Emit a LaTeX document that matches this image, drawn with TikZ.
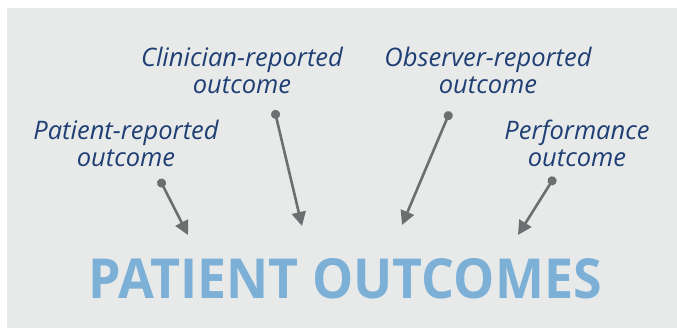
\documentclass[tikz,border=0pt]{standalone}
\usepackage{fontspec}
\setmainfont{Open Sans}
\usetikzlibrary{arrows.meta}

\definecolor{panelgray}{HTML}{E8E9E9}
\definecolor{labelblue}{HTML}{1F3F74}
\definecolor{titleblue}{HTML}{7DB0D7}
\definecolor{arrowgray}{HTML}{6D6E70}

\tikzset{
  kind/.style={font=\fontsize{25.5}{27}\selectfont\itshape, text=labelblue, align=center, inner sep=0pt},
  pointer/.style={draw=arrowgray, line width=2.6pt, {Circle[length=9pt]}-{Triangle[length=14pt,width=14pt]}}
}

\begin{document}
\begin{tikzpicture}[x=1pt,y=-1pt]
		\useasboundingbox (0,0) rectangle (677,328);
		\fill[panelgray] (7,8) rectangle (677,328);
		% the four kinds of outcome
		\node[kind] (PRO) at (126,143) {Patient-reported\\outcome};
		\node[kind] (ClinRO) at (242,70) {Clinician-reported\\outcome};
		\node[kind] (ObsRO) at (488,70) {Observer-reported\\outcome};
		\node[kind] (PerfO) at (577,143) {Performance\\outcome};
		% title
		\node[text=titleblue, inner sep=0pt] (PO) at (345,279)
		  {\resizebox{513pt}{40pt}{\bfseries PATIENT OUTCOMES}};
		% arrow ends
		\coordinate (PROs) at (159.5,179);
		\coordinate (PROe) at (188,235);
		\coordinate (ClinROs) at (274.5,110);
		\coordinate (ClinROe) at (302,226);
		\coordinate (ObsROs) at (450,111.5);
		\coordinate (ObsROe) at (402,225);
		\coordinate (PerfOs) at (554.5,177);
		\coordinate (PerfOe) at (518,235);
		\foreach \k in {PRO,ClinRO,ObsRO,PerfO}
		\draw[pointer] (\k s) -- (\k e);
	    \end{tikzpicture}
\end{document}
